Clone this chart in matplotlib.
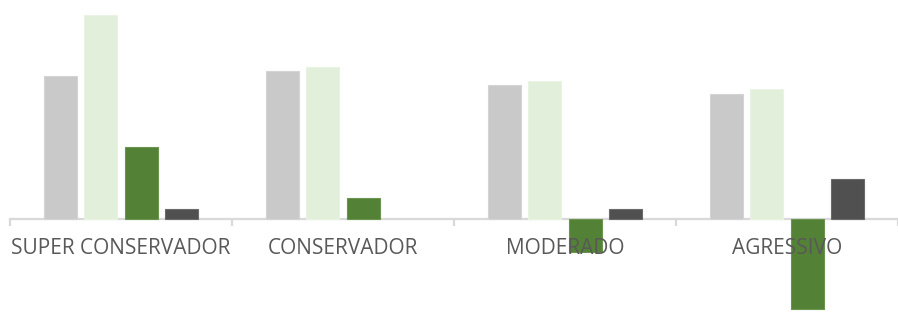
import numpy as np
import matplotlib
matplotlib.use("Agg")
import matplotlib.pyplot as plt

# ============================================================
# Data
# ============================================================
categories = ["SUPER CONSERVADOR", "CONSERVADOR", "MODERADO", "AGRESSIVO"]
serie_cinza       = [14.3, 14.8, 13.4, 12.5]
serie_verde_claro = [20.4, 15.2, 13.8, 13.0]
serie_verde       = [7.2, 2.1, -3.3, -9.0]
serie_escura      = [1.0, 0.0, 1.0, 4.0]

series = [serie_cinza, serie_verde_claro, serie_verde, serie_escura]
colors = ["#c9c9c9", "#e2efda", "#538135", "#505050"]
edges  = ["#d4d4d4", "#e9f3e3", "#6a9450", "#6a6a6a"]

# ============================================================
# Plot
# ============================================================
plt.rcParams["font.family"] = ["Open Sans", "DejaVu Sans"]

fig = plt.figure(figsize=(8.98, 3.12), dpi=100)
ax = fig.add_axes([10 / 898, 0, 888 / 898, 1])

x = np.arange(len(categories))
stride = 0.181
width = 0.148
for i, (vals, c, ec) in enumerate(zip(series, colors, edges)):
    lw = [0.8 if v != 0 else 0 for v in vals]
    ax.bar(x + (i - 1.5) * stride, vals, width=width, color=c,
           edgecolor=ec, linewidth=lw, zorder=1)

ax.set_xlim(-0.5, 3.5)
ax.set_ylim(-9.3, 21.9)

for s in ["top", "right", "left"]:
    ax.spines[s].set_visible(False)
ax.spines["bottom"].set_position(("data", 0))
ax.spines["bottom"].set_color("#d9d9d9")
ax.spines["bottom"].set_linewidth(1.6)
ax.spines["bottom"].set_zorder(0.5)

ax.set_yticks([])
ax.set_xticks(x)
ax.set_xticklabels(categories, fontsize=15, color="#595959")
ax.tick_params(axis="x", which="major", length=0, pad=14)
ax.set_xticks(np.arange(-0.5, 4.0, 1.0), minor=True)
ax.tick_params(axis="x", which="minor", length=5, width=1.6,
               color="#d9d9d9", direction="out")

fig.savefig("out.png", dpi=100)
plt.close(fig)
